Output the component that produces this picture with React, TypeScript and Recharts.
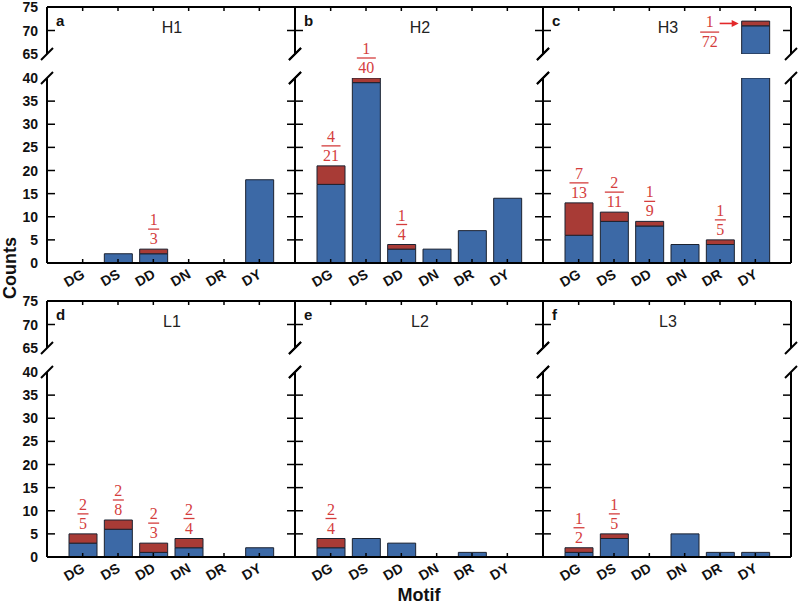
import React from "react";
import { BarChart, Bar, XAxis, YAxis, LabelList } from "recharts";

const motifs = ["DG", "DS", "DD", "DN", "DR", "DY"];

// blue = lower part of each stack, red = upper part
const h1Blue = [0, 2, 2, 0, 0, 18];
const h1Red = [0, 0, 1, 0, 0, 0];
const h2Blue = [17, 39, 3, 3, 7, 14];
const h2Red = [4, 1, 1, 0, 0, 0];
const h3Blue = [6, 9, 8, 4, 4, 71];
const h3Red = [7, 2, 1, 0, 1, 1];
const l1Blue = [3, 6, 1, 2, 0, 2];
const l1Red = [2, 2, 2, 2, 0, 0];
const l2Blue = [2, 4, 3, 0, 1, 0];
const l2Red = [2, 0, 0, 0, 0, 0];
const l3Blue = [1, 4, 0, 5, 1, 1];
const l3Red = [1, 1, 0, 0, 0, 0];

const lowTicks = [0, 5, 10, 15, 20, 25, 30, 35, 40];
const highTicks = [65, 70, 75];

const panels = [
  { id: "a", title: "H1", blue: h1Blue, red: h1Red },
  { id: "b", title: "H2", blue: h2Blue, red: h2Red },
  { id: "c", title: "H3", blue: h3Blue, red: h3Red },
  { id: "d", title: "L1", blue: l1Blue, red: l1Red },
  { id: "e", title: "L2", blue: l2Blue, red: l2Red },
  { id: "f", title: "L3", blue: l3Blue, red: l3Red },
];

const BLUE = "#3c69a6";
const DARKRED = "#a83b36";
const EDGE = "#1b2230";
const FRAC = "#d43d3d";
const ARROW = "#e3282a";
const SANS = "'Liberation Sans', Arial, sans-serif";
const SERIF = "'Liberation Serif', 'DejaVu Serif', serif";

const COL_X = [47, 295, 543];
const PW = 248;
const ROW_Y = [7, 301]; // y of the 75 line
const HIGH_H = 47;
const GAP = 24;
const LOW_H = 185;
const YL = 45;
const YR = 10;
const MT = 60;
const XH = 40;
const XT = 12;
const MB_UP = 14;
const PAD = 18;
const AX = { stroke: "#000", strokeWidth: 2 };

function rowsFor(blue: number[], red: number[], lo: number, hi: number) {
  return motifs.map((m, i) => {
    const total = blue[i] + red[i];
    return {
      motif: m,
      blue: blue[i],
      red: red[i],
      lab: red[i] > 0 && total >= lo && total <= hi ? `${red[i]}/${total}` : "",
    };
  });
}

function YTick(props: any) {
  const { x, y, payload, side, labels } = props;
  const v = payload.value;
  const dir = side === "left" ? 1 : -1;
  const isBreak = v === 40 || v === 65;
  const isEdge = v === 0 || v === 75;
  return (
    <g>
      {isBreak ? (
        <line x1={x - 6} y1={y + 6} x2={x + 6} y2={y - 6} stroke="#000" strokeWidth={2} />
      ) : !isEdge ? (
        <line x1={x} x2={x + dir * 8} y1={y} y2={y} stroke="#000" strokeWidth={1.5} />
      ) : null}
      {labels ? (
        <text x={x - 9} y={y + 5} textAnchor="end" fontFamily={SANS} fontWeight="bold" fontSize={14} fill="#111">
          {v}
        </text>
      ) : null}
    </g>
  );
}

const XTickBottom = (p: any) => (
  <g>
    <line x1={p.x} x2={p.x} y1={p.y} y2={p.y - 4} stroke="#000" strokeWidth={1.5} />
    <text
      x={p.x + 3}
      y={p.y + 14}
      transform={`rotate(-30 ${p.x + 3} ${p.y + 14})`}
      textAnchor="end"
      fontFamily={SANS}
      fontWeight="bold"
      fontSize={14}
      fill="#111"
    >
      {p.payload.value}
    </text>
  </g>
);

const XTickTop = (p: any) => (
  <line x1={p.x} x2={p.x} y1={p.y} y2={p.y + 4} stroke="#000" strokeWidth={1.5} />
);

function fracLabel(upper: boolean) {
  return (p: any) => {
    const v = p.value;
    if (!v) return <g />;
    const vb = p.viewBox && typeof p.viewBox.x === "number" ? p.viewBox : p;
    const { x, y, width, height } = vb;
    const [n, d] = String(v).split("/");
    const lw = Math.max(n.length, d.length) * 8 + 3;
    if (!upper) {
      const cx = x + width / 2;
      return (
        <g>
          <text x={cx} y={y - 24} textAnchor="middle" fontFamily={SERIF} fontSize={16} fill={FRAC}>{n}</text>
          <line x1={cx - lw / 2} x2={cx + lw / 2} y1={y - 20} y2={y - 20} stroke={FRAC} strokeWidth={1.3} />
          <text x={cx} y={y - 5} textAnchor="middle" fontFamily={SERIF} fontSize={16} fill={FRAC}>{d}</text>
        </g>
      );
    }
    const cx = x - 32;
    const ay = y + height / 2;
    return (
      <g>
        <text x={cx} y={y + 6} textAnchor="middle" fontFamily={SERIF} fontSize={16} fill={FRAC}>{n}</text>
        <line x1={cx - lw / 2} x2={cx + lw / 2} y1={y + 11} y2={y + 11} stroke={FRAC} strokeWidth={1.3} />
        <text x={cx} y={y + 26} textAnchor="middle" fontFamily={SERIF} fontSize={16} fill={FRAC}>{d}</text>
        <line x1={x - 22} x2={x - 9} y1={ay} y2={ay} stroke={ARROW} strokeWidth={1.6} />
        <polygon points={`${x - 3},${ay} ${x - 10},${ay - 3.5} ${x - 10},${ay + 3.5}`} fill={ARROW} />
      </g>
    );
  };
}

function Section({ rows, upper, col }: { rows: any[]; upper: boolean; col: number }) {
  const domain = upper ? [65, 75] : [0, 40];
  const ticks = upper ? highTicks : lowTicks;
  const h = upper ? XT + HIGH_H + MB_UP : MT + LOW_H + XH;
  return (
    <BarChart
      width={PW + YL + YR}
      height={h}
      data={rows}
      margin={{ top: upper ? 0 : MT, right: 0, bottom: upper ? MB_UP : 0, left: 0 }}
      barSize={28}
    >
      {upper ? (
        <XAxis
          xAxisId="x"
          dataKey="motif"
          orientation="top"
          height={XT}
          padding={{ left: PAD, right: PAD }}
          interval={0}
          tickSize={0}
          tickMargin={0}
          tickLine={false}
          axisLine={AX}
          tick={XTickTop}
        />
      ) : (
        <XAxis
          xAxisId="x"
          dataKey="motif"
          orientation="bottom"
          height={XH}
          padding={{ left: PAD, right: PAD }}
          interval={0}
          tickSize={0}
          tickMargin={0}
          tickLine={false}
          axisLine={AX}
          tick={XTickBottom}
        />
      )}
      <YAxis
        yAxisId="L"
        orientation="left"
        width={YL}
        domain={domain}
        ticks={ticks}
        interval={0}
        allowDataOverflow
        tickSize={0}
        tickMargin={0}
        tickLine={false}
        axisLine={AX}
        tick={(t: any) => <YTick {...t} side="left" labels={col === 0} />}
      />
      <YAxis
        yAxisId="R"
        orientation="right"
        width={YR}
        domain={domain}
        ticks={ticks}
        interval={0}
        allowDataOverflow
        tickSize={0}
        tickMargin={0}
        tickLine={false}
        axisLine={AX}
        tick={(t: any) => <YTick {...t} side="right" labels={false} />}
      />
      <Bar xAxisId="x" yAxisId="L" dataKey="blue" stackId="s" fill={BLUE} stroke={EDGE} strokeWidth={1} isAnimationActive={false} />
      <Bar xAxisId="x" yAxisId="L" dataKey="red" stackId="s" fill={DARKRED} stroke={EDGE} strokeWidth={1} isAnimationActive={false}>
        <LabelList dataKey="lab" content={fracLabel(upper)} />
      </Bar>
    </BarChart>
  );
}

function Panel({ idx }: { idx: number }) {
  const p = panels[idx];
  const col = idx % 3;
  const row = Math.floor(idx / 3);
  const x0 = COL_X[col];
  const y75 = ROW_Y[row];
  const y40 = y75 + HIGH_H + GAP;
  return (
    <>
      <div style={{ position: "absolute", left: x0 - YL, top: y40 - MT }}>
        <Section rows={rowsFor(p.blue, p.red, 0, 40)} upper={false} col={col} />
      </div>
      <div style={{ position: "absolute", left: x0 - YL, top: y75 - XT }}>
        <Section rows={rowsFor(p.blue, p.red, 65, 75)} upper={true} col={col} />
      </div>
    </>
  );
}

export default function App() {
  return (
    <div style={{ position: "absolute", left: 0, top: 0, width: 800, height: 605, background: "#fff", overflow: "hidden" }}>
      {panels.map((p, i) => (
        <Panel key={p.id} idx={i} />
      ))}
      <svg width={800} height={605} style={{ position: "absolute", left: 0, top: 0, pointerEvents: "none" }}>
        {panels.map((p, i) => {
          const x0 = COL_X[i % 3];
          const y0 = ROW_Y[Math.floor(i / 3)];
          return (
            <g key={p.id}>
              <text x={x0 + 9} y={y0 + 19} fontFamily={SANS} fontWeight="bold" fontSize={15} fill="#111">{p.id}</text>
              <text x={x0 + PW / 2 + 1} y={y0 + 26} textAnchor="middle" fontFamily={SANS} fontSize={16} fill="#222">{p.title}</text>
            </g>
          );
        })}
        <text x={16} y={268} transform="rotate(-90 16 268)" textAnchor="middle" fontFamily={SANS} fontWeight="bold" fontSize={18} fill="#111">Counts</text>
        <text x={419} y={601} textAnchor="middle" fontFamily={SANS} fontWeight="bold" fontSize={18} fill="#111">Motif</text>
      </svg>
    </div>
  );
}
